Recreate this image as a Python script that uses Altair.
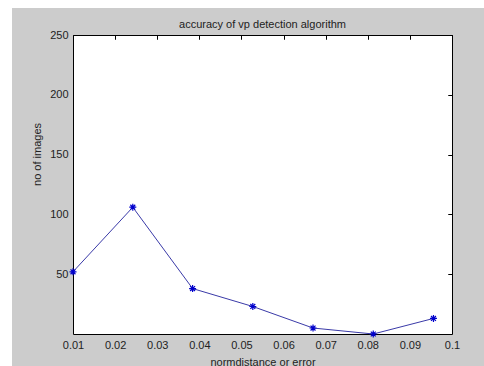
import altair as alt
import pandas as pd

# data
x_vals = [0.0100, 0.0242, 0.0384, 0.0527, 0.0670, 0.0813, 0.0956]
y_vals = [52, 106, 38, 23, 5, 0, 13]
x_ticks = [0.01, 0.02, 0.03, 0.04, 0.05, 0.06, 0.07, 0.08, 0.09, 0.1]
y_ticks = [50, 100, 150, 200, 250]

df = pd.DataFrame({"x": x_vals, "y": y_vals})
one = pd.DataFrame({"a": [0]})

W, H = 379, 299
FONT = "Liberation Sans"
TXT = "#222222"

xs = alt.Scale(domain=[0.01, 0.1], nice=False, zero=False)
ys = alt.Scale(domain=[0, 250], nice=False, zero=False)

base = alt.Chart(df)

line = base.mark_line(color="#3a3aa8", strokeWidth=1).encode(
    x=alt.X("x:Q", scale=xs, axis=alt.Axis(
        values=x_ticks, format="~g", ticks=False, domain=False, grid=False,
        labelFlush=False, labelOverlap=False,
        labelPadding=5, labelFontSize=11, labelFont=FONT, labelColor=TXT,
        title="normdistance or error", titleFont=FONT, titleFontSize=11,
        titleFontWeight="normal", titleColor=TXT, titlePadding=6)),
    y=alt.Y("y:Q", scale=ys, axis=alt.Axis(
        values=y_ticks, ticks=False, domain=False, grid=False,
        labelFlush=False, labelOverlap=False,
        labelPadding=5, labelFontSize=11, labelFont=FONT, labelColor=TXT,
        title="no of images", titleFont=FONT, titleFontSize=11,
        titleFontWeight="normal", titleColor=TXT, titleY=119, titleX=-31,
        titleAlign="center", titleBaseline="bottom", titleAngle=270)),
)

star = "M-1,0L1,0M0,-1L0,1M-0.7,-0.7L0.7,0.7M-0.7,0.7L0.7,-0.7"

pts = base.mark_point(shape=star, size=49, filled=False, color="#0000cc",
                      strokeWidth=1.2, opacity=1).encode(
    x=alt.X("x:Q", scale=xs, axis=alt.Axis(
        values=x_ticks, labels=False, ticks=True, tickSize=4, offset=-4,
        tickColor="black", domain=False, grid=False, title=None)),
    y=alt.Y("y:Q", scale=ys, axis=alt.Axis(
        values=y_ticks, labels=False, ticks=True, tickSize=4, offset=-4,
        tickColor="black", domain=False, grid=False, title=None)),
)

ghost = base.mark_point(opacity=0).encode(
    x=alt.X("x:Q", scale=xs, axis=alt.Axis(
        orient="top", values=x_ticks, labels=False, ticks=True, tickSize=4,
        offset=-4, tickColor="black", domain=False, grid=False, title=None)),
    y=alt.Y("y:Q", scale=ys, axis=alt.Axis(
        orient="right", values=y_ticks, labels=False, ticks=True, tickSize=4,
        offset=-4, tickColor="black", domain=False, grid=False, title=None)),
)

strip_left = alt.Chart(one).mark_rect(color="white").encode(
    x=alt.value(-73), x2=alt.value(-61), y=alt.value(-35), y2=alt.value(331))
strip_top = alt.Chart(one).mark_rect(color="white").encode(
    x=alt.value(-73), x2=alt.value(411), y=alt.value(-35), y2=alt.value(-27))

chart = alt.layer(strip_left, strip_top, line, pts, ghost).resolve_axis(
    x="independent", y="independent"
).properties(
    width=W, height=H,
    title=alt.TitleParams("accuracy of vp detection algorithm", font=FONT,
                          fontSize=11, fontWeight="normal", color=TXT,
                          anchor="middle", frame="group", offset=6, dy=36),
    autosize=alt.AutoSizeParams(type="none"),
    padding={"left": 73, "top": 35, "right": 32, "bottom": 32},
    background="#cccccc",
).configure_view(fill="white", stroke="black", strokeWidth=1)

chart.save("out.html", embed_options={"renderer": "svg", "actions": False})
